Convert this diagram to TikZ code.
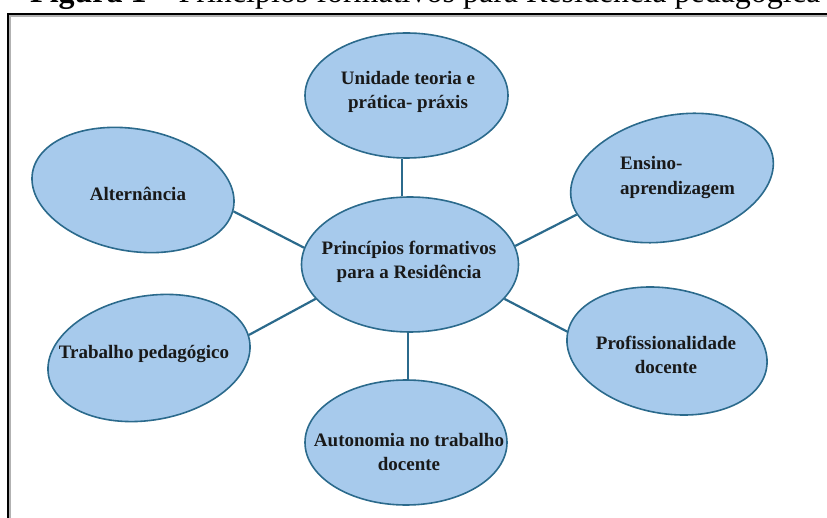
\documentclass[tikz,border=0pt]{standalone}
\usepackage{fontspec}
\setmainfont{Liberation Serif}
\usetikzlibrary{shapes.geometric}
\definecolor{bubblefill}{RGB}{167,202,236}
\definecolor{bubbleedge}{RGB}{43,106,140}
\begin{document}
\begin{tikzpicture}[x=1pt,y=-1pt,
  bubble/.style={ellipse, draw=bubbleedge, line width=1.6pt, fill=bubblefill, inner sep=0pt},
  lbl/.style={font=\fontsize{19}{24.5}\selectfont\bfseries, text=black!90, align=center, inner sep=0pt},
  link/.style={draw=bubbleedge, line width=2.2pt}]
\useasboundingbox (0,0) rectangle (827,518);
\clip (0,0) rectangle (827,518);
% cropped caption
\node[anchor=base west, inner sep=0pt, font=\fontsize{32}{38}\selectfont] (title) at (30,3)
  {\textbf{Figura 1} – Princípios formativos para Residência pedagógica};
% frame
\draw[line width=2pt] (8.3,530) -- (8.3,14.3) -- (840,14.3);
\draw[gray!60, line width=1.3pt] (10,530) -- (10,16) -- (840,16);
% bubbles
\node[bubble, minimum width=217, minimum height=135] (ctr) at (410,264.5) {};
\node[bubble, minimum width=203, minimum height=125] (top) at (406.5,95.5) {};
\node[bubble, minimum width=204, minimum height=122, rotate=-10] (alt) at (133,190) {};
\node[bubble, minimum width=206, minimum height=124, rotate=13] (ens) at (672,178) {};
\node[bubble, minimum width=204, minimum height=124, rotate=10] (trab) at (149,358) {};
\node[bubble, minimum width=202, minimum height=125, rotate=-10] (prof) at (667,351) {};
\node[bubble, minimum width=202, minimum height=125] (aut) at (406,442.5) {};
% labels
\node[lbl] (ctrT) at (409,262) {Princípios formativos\\para a Residência};
\node[lbl] (topT) at (408,92) {Unidade teoria e\\prática- práxis};
\node[lbl] (altT) at (138,194) {Alternância};
\node[lbl, anchor=west, align=left] (ensT) at (620,177.5) {Ensino-\\aprendizagem};
\node[lbl] (trabT) at (144,354) {Trabalho pedagógico};
\node[lbl] (profT) at (666,355) {Profissionalidade\\docente};
\node[lbl] (autT) at (409,452) {Autonomia no trabalho\\docente};
% connectors
\draw[link] (ctr.171) -- (alt.-2);
\draw[link] (ctr.10) -- (ens.188);
\draw[link] (ctr.200) -- (trab.3);
\draw[link] (ctr.-20) -- (prof.179);
\draw[link] (ctr.97) -- (ctr.97 |- top.south);
\draw[link] (ctr.268) -- (ctr.268 |- aut.north);
\end{tikzpicture}
\end{document}
